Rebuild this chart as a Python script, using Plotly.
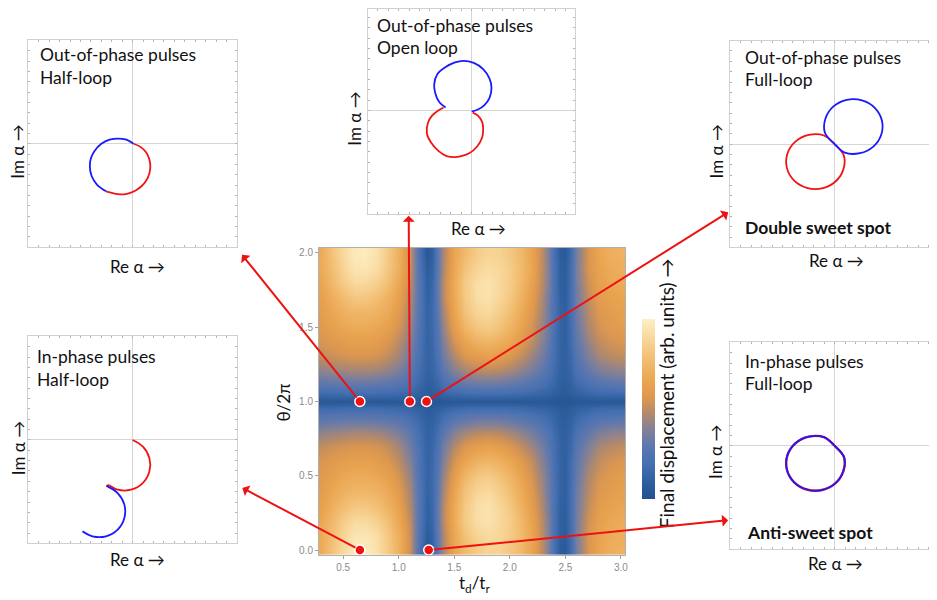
import plotly.graph_objects as go

# the page shows the figure with an 8 px offset, so the figure is drawn 8 px smaller
OFF = 8
W, H = 937 - OFF, 600 - OFF
FONT = "Lato"

# ---------------- heatmap data ----------------
td = [0.3, 0.4, 0.5, 0.6, 0.7, 0.8, 0.9, 1.0, 1.1, 1.15, 1.2, 1.25, 1.3, 1.35, 1.4,
      1.5, 1.6, 1.7, 1.8, 1.9, 2.0, 2.1, 2.2, 2.3, 2.35, 2.4, 2.45, 2.5, 2.55, 2.6,
      2.7, 2.8, 2.9, 3.0]
theta_lower = [0.0, 0.1, 0.2, 0.3, 0.4, 0.5, 0.6, 0.7, 0.8, 0.9, 0.95, 1.0]
z_lower = [
    [.68, .80, .90, .97, .98, .93, .83, .70, .52, .35, .18, .05, .10, .30, .45, .65, .76, .84, .88, .87, .82, .75, .64, .48, .35, .20, .08, .06, .18, .35, .55, .65, .70, .72],
    [.68, .78, .88, .95, .96, .92, .82, .70, .52, .36, .20, .08, .12, .30, .46, .66, .80, .88, .91, .89, .84, .76, .65, .48, .36, .22, .10, .08, .20, .36, .55, .64, .68, .70],
    [.66, .75, .84, .90, .90, .86, .78, .66, .50, .36, .22, .10, .14, .32, .48, .68, .84, .92, .94, .90, .84, .75, .63, .47, .36, .22, .10, .08, .20, .35, .53, .62, .66, .68],
    [.62, .70, .77, .82, .82, .78, .72, .62, .47, .35, .22, .11, .15, .32, .48, .67, .83, .92, .94, .89, .82, .72, .60, .45, .34, .22, .11, .09, .20, .34, .50, .60, .63, .65],
    [.60, .66, .71, .74, .74, .72, .67, .58, .45, .34, .22, .12, .16, .30, .45, .64, .80, .88, .90, .85, .78, .68, .57, .43, .33, .22, .12, .10, .20, .33, .48, .57, .60, .62],
    [.58, .62, .66, .68, .68, .66, .62, .54, .42, .32, .21, .12, .16, .28, .42, .60, .74, .82, .84, .80, .73, .64, .54, .41, .32, .21, .12, .10, .19, .31, .46, .54, .58, .60],
    [.55, .58, .60, .62, .62, .60, .56, .49, .38, .30, .20, .12, .15, .26, .38, .54, .65, .72, .74, .71, .66, .58, .50, .38, .30, .20, .12, .10, .18, .29, .42, .50, .54, .56],
    [.50, .52, .54, .55, .55, .54, .50, .44, .34, .27, .19, .12, .14, .23, .34, .47, .56, .60, .62, .60, .56, .50, .43, .34, .27, .19, .12, .10, .16, .26, .37, .45, .48, .50],
    [.40, .42, .43, .44, .44, .43, .40, .36, .29, .23, .17, .11, .13, .20, .28, .38, .44, .47, .48, .47, .44, .40, .35, .28, .23, .17, .11, .10, .14, .22, .30, .36, .39, .40],
    [.26, .27, .28, .28, .28, .27, .26, .24, .20, .17, .13, .09, .10, .14, .19, .25, .28, .30, .30, .30, .28, .26, .23, .19, .16, .13, .09, .08, .11, .15, .20, .24, .25, .26],
    [.17, .17, .18, .18, .18, .18, .17, .16, .14, .12, .10, .08, .08, .10, .13, .16, .18, .19, .19, .19, .18, .17, .15, .13, .12, .10, .08, .07, .09, .11, .14, .16, .17, .17],
    [.05, .05, .05, .05, .05, .05, .05, .05, .05, .05, .04, .04, .04, .04, .05, .05, .05, .05, .05, .05, .05, .05, .05, .05, .05, .04, .04, .04, .04, .05, .05, .05, .05, .05],
]
# pattern is mirror-symmetric about theta/2pi = 1
theta_full = theta_lower + [round(2 - t, 3) for t in reversed(theta_lower[:-1])]
z_full = z_lower + [row for row in reversed(z_lower[:-1])]

x_ticks = [0.5, 1.0, 1.5, 2.0, 2.5, 3.0]
y_ticks = [0.0, 0.5, 1.0, 1.5, 2.0]

# selected points (t_d/t_r, theta/2pi)
pts_td = [0.65, 1.1, 1.25, 0.65, 1.27]
pts_th = [1.0, 1.0, 1.0, 0.0, 0.0]

# ---------------- phase-space loops (Re, Im) ----------------
p1_blue_re = [0.01, -0.06, -0.14, -0.22, -0.30, -0.365, -0.40, -0.41, -0.393, -0.342, -0.254]
p1_blue_im = [0.0, 0.04, 0.05, 0.04, 0.0, -0.07, -0.14, -0.22, -0.312, -0.394, -0.46]
p1_red_re = [-0.254, -0.12, -0.045, 0.025, 0.085, 0.131, 0.16, 0.17, 0.16, 0.131, 0.075, 0.01]
p1_red_im = [-0.46, -0.49, -0.481, -0.454, -0.411, -0.355, -0.29, -0.22, -0.15, -0.085, -0.03, 0.0]

p2_blue_re = [-0.25, -0.31, -0.35, -0.36, -0.33, -0.25, -0.16, -0.08, 0.02, 0.11, 0.17, 0.19, 0.17, 0.12, 0.06, 0.0]
p2_blue_im = [0.03, 0.08, 0.17, 0.25, 0.35, 0.42, 0.465, 0.48, 0.46, 0.40, 0.31, 0.22, 0.12, 0.05, 0.01, -0.01]
p2_red_re = [0.01, 0.06, 0.10, 0.11, 0.10, 0.05, -0.02, -0.10, -0.16, -0.24, -0.32, -0.39, -0.43, -0.42, -0.38, -0.32, -0.27]
p2_red_im = [-0.02, -0.05, -0.11, -0.18, -0.26, -0.35, -0.41, -0.44, -0.45, -0.44, -0.39, -0.31, -0.22, -0.12, -0.05, 0.0, 0.03]

p3_red_re = [0.0, -0.103, -0.248, -0.376, -0.453, -0.458, -0.39, -0.267, -0.122, 0.006, 0.083, 0.088, 0.0]
p3_red_im = [0.0, 0.083, 0.088, 0.024, -0.093, -0.23, -0.351, -0.423, -0.428, -0.364, -0.247, -0.11, 0.0]
p3_blue_re = [0.0, 0.098, 0.243, 0.371, 0.448, 0.453, 0.385, 0.262, 0.117, -0.011, -0.088, -0.093, 0.0]
p3_blue_im = [0.0, -0.083, -0.088, -0.024, 0.093, 0.23, 0.351, 0.423, 0.428, 0.364, 0.247, 0.11, 0.0]

p4_red_re = [0.0, 0.097, 0.161, 0.161, 0.097, -0.015, -0.145, -0.234, -0.25]
p4_red_im = [0.0, -0.063, -0.175, -0.305, -0.417, -0.481, -0.481, -0.437, -0.45]
p4_blue_re = [-0.25, -0.143, -0.079, -0.079, -0.143, -0.255, -0.385, -0.481]
p4_blue_im = [-0.444, -0.513, -0.625, -0.755, -0.867, -0.931, -0.931, -0.882]

p5_red_re = [0.0, -0.103, -0.248, -0.376, -0.453, -0.458, -0.39, -0.267, -0.122, 0.006, 0.083, 0.09, 0.0]
p5_red_im = [0.0, 0.083, 0.088, 0.024, -0.093, -0.23, -0.351, -0.423, -0.428, -0.364, -0.247, -0.11, 0.0]
p5_blue_re = [0.0, -0.103, -0.248, -0.376, -0.453, -0.458, -0.39, -0.267, -0.122, 0.006, 0.083, 0.09, 0.0]
p5_blue_im = [0.0, 0.083, 0.088, 0.024, -0.093, -0.23, -0.351, -0.423, -0.428, -0.364, -0.247, -0.11, 0.0]

RED = "#f01414"
BLUE = "#1a1aff"
ARROW = "#ee1111"

def px(x):
    return (x - OFF) / W

def py(y):
    return 1 - (y - OFF) / H

# ---------------- main heatmap ----------------
HX0, HX1, HY0, HY1 = 320, 627, 247, 555   # plot area, page pixels
XR = [0.282, 3.037]
YR = [-0.034, 2.036]

colorscale = [
    [0.0, "#24508e"], [0.1, "#30609f"], [0.2, "#4670b2"], [0.3, "#5f78ad"],
    [0.4, "#8a8292"], [0.48, "#b68a68"], [0.56, "#dc9750"], [0.64, "#e9a34f"],
    [0.75, "#f0b86a"], [0.87, "#f7d292"], [1.0, "#fdf0c6"],
]

fig = go.Figure()
fig.add_trace(go.Heatmap(
    x=td, y=theta_full, z=z_full, zmin=0, zmax=1, zsmooth="best",
    colorscale=colorscale, xaxis="x", yaxis="y",
    colorbar=dict(x=px(644), xanchor="left", y=py(409), yanchor="middle",
                  len=180 / H, lenmode="fraction", thickness=13,
                  thicknessmode="pixels", showticklabels=False, ticks="",
                  outlinewidth=0, xpad=0, ypad=0),
    hoverinfo="skip",
))

fig.add_trace(go.Scatter(
    x=pts_td, y=pts_th, mode="markers", xaxis="x", yaxis="y",
    marker=dict(size=10, color=ARROW, line=dict(color="white", width=1.5)),
    cliponaxis=False, showlegend=False, hoverinfo="skip",
))

axis_common = dict(showgrid=False, zeroline=False, showline=True,
                   linecolor="#b0b0b0", linewidth=1, mirror=True,
                   ticks="outside", ticklen=3, tickcolor="#a0a0a0",
                   tickfont=dict(family="Liberation Sans", size=10, color="#8a8a8a"),
                   fixedrange=True)

layout = dict(
    width=W, height=H, margin=dict(l=0, r=0, t=0, b=0),
    paper_bgcolor="white", plot_bgcolor="white", showlegend=False,
    xaxis=dict(domain=[px(HX0), px(HX1)], range=XR, anchor="y",
               tickvals=x_ticks, ticktext=[f"{v:.1f}" for v in x_ticks],
               **axis_common),
    yaxis=dict(domain=[py(HY1), py(HY0)], range=YR, anchor="x",
               tickvals=y_ticks, ticktext=[f"{v:.1f}" for v in y_ticks],
               **axis_common),
)

# ---------------- insets: frame box and origin in page pixels ----------------
SX, SY = 104.6, 103.6   # pixels per unit of Re / Im
insets = [
    dict(box=(28.3, 237.7, 39.3, 246.7), origin=(133.0, 143.0),
         curves=[(p1_blue_re, p1_blue_im, BLUE), (p1_red_re, p1_red_im, RED)]),
    dict(box=(369, 577.3, 6, 213.3), origin=(473.2, 109.7),
         curves=[(p2_red_re, p2_red_im, RED), (p2_blue_re, p2_blue_im, BLUE)]),
    dict(box=(732.7, 942, 40, 246.7), origin=(837.3, 143.3),
         curves=[(p3_red_re, p3_red_im, RED), (p3_blue_re, p3_blue_im, BLUE)]),
    dict(box=(28.3, 237.7, 336, 543.3), origin=(133.0, 439.7),
         curves=[(p4_red_re, p4_red_im, RED), (p4_blue_re, p4_blue_im, BLUE)]),
    dict(box=(732.7, 942, 341.7, 549.3), origin=(837.3, 445.5),
         curves=[(p5_red_re, p5_red_im, RED), (p5_blue_re, p5_blue_im, BLUE)]),
]

inset_axis = dict(showgrid=False, zeroline=True, zerolinecolor="#d6d6d6",
                  zerolinewidth=1, showline=True, linecolor="#d0d0d0", linewidth=1,
                  mirror="ticks", ticks="inside", ticklen=2, tickcolor="#b4b4b4",
                  tick0=0, dtick=0.1, showticklabels=False, fixedrange=True)

for i, ins in enumerate(insets, start=2):
    l, r, t, b = ins["box"]
    l, r = max(l, OFF), min(r, OFF + W)
    t, b = max(t, OFF), min(b, OFF + H)
    ox, oy = ins["origin"]
    layout[f"xaxis{i}"] = dict(domain=[px(l), px(r)],
                               range=[(l - ox) / SX, (r - ox) / SX],
                               anchor=f"y{i}", **inset_axis)
    layout[f"yaxis{i}"] = dict(domain=[py(b), py(t)],
                               range=[(oy - b) / SY, (oy - t) / SY],
                               anchor=f"x{i}", **inset_axis)
    for k, (re, im, col) in enumerate(ins["curves"]):
        w = 2.4 if (i == 6 and col == RED) else 1.8
        fig.add_trace(go.Scatter(
            x=re, y=im, mode="lines", line=dict(color=col, width=w, shape="spline"),
            xaxis=f"x{i}", yaxis=f"y{i}", showlegend=False, hoverinfo="skip"))

fig.update_layout(**layout)

# ---------------- texts ----------------
def text(s, x, y, size=17.5, bold=False, angle=0, xanchor="left", color="#111111", family=FONT):
    if bold:
        s = f"<b>{s}</b>"
    fig.add_annotation(text=s, x=px(x), y=py(y), xref="paper", yref="paper",
                       xanchor=xanchor, yanchor="middle", showarrow=False,
                       textangle=angle, font=dict(family=family, size=size, color=color))

text("Out-of-phase pulses", 38, 54)
text("Half-loop", 38, 77)
text("Out-of-phase pulses", 376, 25)
text("Open loop", 376, 47)
text("Out-of-phase pulses", 745, 57)
text("Full-loop", 745, 79)
text("Double sweet spot", 745, 227, bold=True)
text("In-phase pulses", 35, 356)
text("Half-loop", 35, 379)
text("In-phase pulses", 745, 361)
text("Full-loop", 745, 383)
text("Anti-sweet spot", 747, 532, bold=True)

for (cx, cy) in [(138, 266), (480, 228), (839, 260), (138, 559), (838, 563)]:
    text("Re α →", cx, cy, size=17, xanchor="center")
for (cx, cy) in [(18, 151), (356, 118), (719, 151), (18, 448), (718, 452)]:
    text("Im α →", cx, cy, size=17, angle=-90, xanchor="center")

text("θ/2π", 284, 402, size=17, angle=-90, xanchor="center")
text("t<sub>d</sub>/t<sub>r</sub>", 476, 584, size=17, xanchor="center")
text("Final displacement (arb. units) →", 668, 393, size=19, angle=-90, xanchor="center")

# ---------------- arrows from points to insets ----------------
tips = [(242, 253), (410, 214), (731, 211), (242, 487), (731, 520)]

def to_px(xv, yv):
    sx = HX0 + (xv - XR[0]) / (XR[1] - XR[0]) * (HX1 - HX0)
    sy = HY1 - (yv - YR[0]) / (YR[1] - YR[0]) * (HY1 - HY0)
    return sx, sy

for xv, yv, (tx, ty) in zip(pts_td, pts_th, tips):
    sx, sy = to_px(xv, yv)
    fig.add_annotation(x=xv, y=yv, xref="x", yref="y", ax=tx - sx, ay=ty - sy,
                       axref="pixel", ayref="pixel", text="", showarrow=True,
                       arrowside="start", arrowhead=2, arrowsize=1.1, arrowwidth=2,
                       arrowcolor=ARROW, standoff=5, startstandoff=0)

fig.write_html("out.html")
